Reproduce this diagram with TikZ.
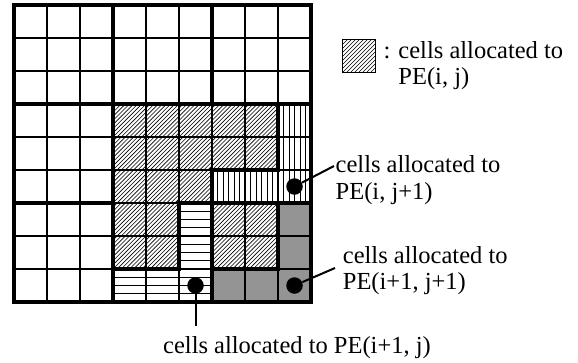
\documentclass[tikz,border=0pt]{standalone}
\usepackage{fontspec}
\setmainfont{Liberation Serif}
\begin{document}
\begin{tikzpicture}[x=1pt,y=-1pt,
  graycell/.style={fill=black!42},
  hatchline/.style={line width=0.65pt},
  thingrid/.style={line width=1.2pt},
  thickgrid/.style={line width=3.6pt,line cap=rect},
  dot/.style={circle,fill=black,inner sep=0pt,minimum size=16.5pt},
  leader/.style={line width=2pt},
  lbl/.style={inner sep=0pt,font=\fontsize{24.5pt}{26.5pt}\selectfont}]
\useasboundingbox (0,0) rectangle (578,362);
\begin{scope}[shift={(14,5)},x=33pt,y=-33pt]
  % PE(i,j) cells: diagonal hatching
  \begin{scope}
    \clip (3,3) -- (8,3) -- (8,5) -- (6,5) -- (6,6) -- (5,6) -- (5,8) -- (3,8) -- cycle
          (6,6) rectangle (8,8);
    \foreach \k in {0,...,80} \draw[hatchline] (\k/8-3,9) -- (\k/8+6,0);
  \end{scope}
  % PE(i+1,j+1) cells
  \fill[graycell] (8,6) -- (9,6) -- (9,9) -- (6,9) -- (6,8) -- (8,8) -- cycle;
  % PE(i,j+1) cells
  \begin{scope}
    \clip (8,3) -- (9,3) -- (9,6) -- (6,6) -- (6,5) -- (8,5) -- cycle;
    \foreach \k in {1,...,17} \draw[hatchline] (6+\k/6,3) -- (6+\k/6,6);
  \end{scope}
  % PE(i+1,j) cells
  \begin{scope}
    \clip (5,6) -- (6,6) -- (6,9) -- (3,9) -- (3,8) -- (5,8) -- cycle;
    \foreach \k in {1,...,11} \draw[hatchline] (3,6+\k/4) -- (6,6+\k/4);
  \end{scope}
  % thin grid
  \foreach \i in {0,...,9} {
    \draw[thingrid] (\i,0) -- (\i,9);
    \draw[thingrid] (0,\i) -- (9,\i);
  }
  % thick lines
  \draw[thickgrid] (0,0) rectangle (9,9);
  \draw[thickgrid] (3,0) -- (3,9);
  \draw[thickgrid] (0,3) -- (9,3);
  \draw[thickgrid] (6,0) -- (6,3);
  \draw[thickgrid] (0,6) -- (3,6);
  \draw[thickgrid] (5,6) -- (9,6);
  \draw[thickgrid] (8,3) -- (8,5) -- (6,5) -- (6,9);
  \draw[thickgrid] (5,6) -- (5,8) -- (3,8);
  \draw[thickgrid] (6,8) -- (8,8) -- (8,6);
  % dots
  \node[dot] (dA) at (8.5,5.5) {};
  \node[dot] (dB) at (8.5,8.5) {};
  \node[dot] (dC) at (5.5,8.5) {};
\end{scope}
% legend
\node[inner sep=0pt,minimum size=32pt] (leg) at (359,56) {};
\begin{scope}
  \clip (leg.south west) rectangle (leg.north east);
  \foreach \k in {0,...,16} \draw[hatchline] ([xshift=\k*4pt-32pt]leg.south west) -- ++(40pt,40pt);
\end{scope}
\draw[line width=1pt] (leg.south west) rectangle (leg.north east);
\node[lbl,anchor=base west] (legtxt) at (383.3,58.3)
  {\begin{tabular}[t]{@{}l@{}}: cells allocated to\\\phantom{: }PE(i, j)\end{tabular}};
% labels
\node[lbl,anchor=base west] (tA) at (335.5,172.7)
  {\begin{tabular}[t]{@{}l@{}}cells allocated to\\PE(i, j+1)\end{tabular}};
\node[lbl,anchor=base west] (tB) at (342.7,263.3)
  {\begin{tabular}[t]{@{}l@{}}cells allocated to\\PE(i+1, j+1)\end{tabular}};
\node[lbl,anchor=base west] (tC) at (163,353.3) {cells allocated to PE(i+1, j)};
\coordinate (eA) at (334,166);
\coordinate (eB) at (335,268);
\coordinate (eC) at (195.5,326);
\draw[leader] (dA) -- (eA);
\draw[leader] (dB) -- (eB);
\draw[leader] (dC) -- (eC);
\end{tikzpicture}
\end{document}
